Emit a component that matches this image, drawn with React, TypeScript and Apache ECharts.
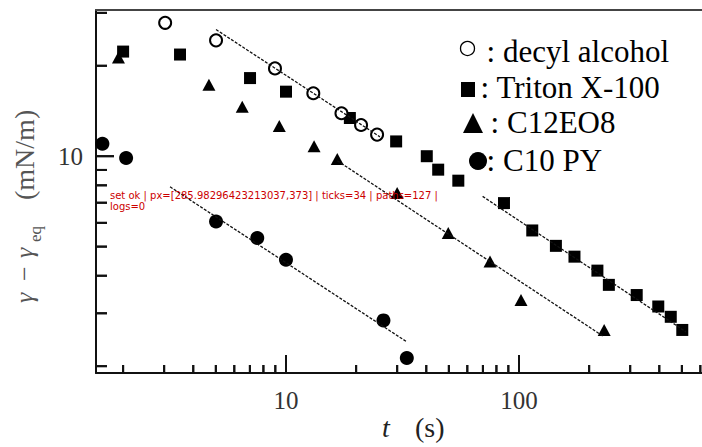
import React, { useEffect, useRef, useState } from 'react';
import * as echarts from 'echarts';

// axis ranges (values)
const X_MIN = 1.53;
const X_MAX = 610;
const Y_MIN = 1.898;
const Y_MAX = 30.67;

// tick values
const xMajorTicks = [10, 100];
const xMinorTicks = [2, 3, 4, 5, 6, 7, 8, 9, 20, 30, 40, 50, 60, 70, 80, 90, 200, 300, 400, 500, 600];
const yMajorTicks = [10];
const yMinorTicks = [2, 3, 4, 5, 6, 7, 8, 9, 20, 30];
const xTickLabels = [10, 100];
const yTickLabels = [10];

// decyl alcohol (open circles)
const decylT = [3.03, 5.01, 8.97, 13.1, 17.3, 21.0, 24.6];
const decylG = [27.8, 24.3, 19.6, 16.2, 13.9, 12.7, 11.8];
// Triton X-100 (squares)
const tritonT = [2.0, 3.51, 7.01, 10.0, 18.8, 29.7, 40.2, 45.0, 54.9, 86.2, 114, 144, 173, 217, 243, 320, 396, 448, 502];
const tritonG = [22.3, 21.8, 18.2, 16.4, 13.4, 11.2, 10.0, 9.02, 8.29, 6.98, 5.66, 5.03, 4.63, 4.16, 3.73, 3.45, 3.16, 2.92, 2.64];
// C12EO8 (triangles)
const c12T = [1.91, 4.67, 6.49, 9.36, 13.2, 16.6, 30.0, 49.7, 75.1, 102, 232];
const c12G = [21.3, 17.3, 14.6, 12.6, 10.8, 9.79, 7.54, 5.55, 4.46, 3.32, 2.64];
// C10 PY (filled circles)
const c10T = [1.63, 2.06, 5.01, 7.53, 10.0, 26.2, 33.0];
const c10G = [11.0, 9.86, 6.06, 5.34, 4.52, 2.84, 2.13];

// fitted lines (t^-1/2)
const decylFitT = [5.01, 25.3];
const decylFitG = [26.4, 11.6];
const tritonFitT = [69.8, 521];
const tritonFitG = [7.35, 2.6];
const c12FitT = [16.6, 229];
const c12FitG = [9.66, 2.52];
const c10FitT = [3.18, 33.0];
const c10FitG = [7.91, 2.41];

const legendNames = ['decyl alcohol', 'Triton X-100', 'C12EO8', 'C10 PY'];

const zip = (a: number[], b: number[]) => a.map((v, i) => [v, b[i]]);

const SERIF = 'Liberation Serif';

const logs: string[] = [];
const origWarn = console.warn;
const origErr = console.error;
console.warn = (...a: any[]) => { logs.push('W:' + a.map(String).join(' ').slice(0, 120)); origWarn(...a); };
console.error = (...a: any[]) => { logs.push('E:' + a.map(String).join(' ').slice(0, 120)); origErr(...a); };

export default function App() {
  const ref = useRef<HTMLDivElement>(null);
  const [dbg, setDbg] = useState('');
  useEffect(() => {
    const chart = echarts.init(ref.current!, null, { renderer: 'svg' });
    const info: string[] = [];

    const txt = (text: string, x: number, y: number, size: number, color: string, italic = false) => ({
      type: 'text',
      x,
      y,
      style: {
        text,
        fontFamily: SERIF,
        fontSize: size,
        fontStyle: italic ? 'italic' : 'normal',
        fill: color,
        align: 'left',
        verticalAlign: 'middle',
      },
    });

    const xTickSeries = (vals: number[], len: number) => ({
      type: 'custom',
      data: vals.map((v) => [v, Y_MIN]),
      encode: { x: 0, y: 1 },
      renderItem: (p: any, api: any) => {
        const c = api.coord([api.value(0), api.value(1)]);
        return {
          type: 'line',
          shape: { x1: c[0], y1: c[1], x2: c[0], y2: c[1] - len },
          style: { stroke: '#111', lineWidth: 2 },
        };
      },
    });
    const yTickSeries = (vals: number[], len: number) => ({
      type: 'custom',
      data: vals.map((v) => [X_MIN, v]),
      encode: { x: 0, y: 1 },
      renderItem: (p: any, api: any) => {
        const c = api.coord([api.value(0), api.value(1)]);
        return {
          type: 'line',
          shape: { x1: c[0], y1: c[1], x2: c[0] + len, y2: c[1] },
          style: { stroke: '#111', lineWidth: 2 },
        };
      },
    });

    const fitLine = (t: number[], g: number[]) => ({
      type: 'line',
      data: zip(t, g),
      symbol: 'none',
      lineStyle: { color: '#111', width: 1.3, type: [3, 1.5] },
    });

    const legendRows = [
      { textX: 486.6, y: 51.5 },
      { textX: 480.6, y: 87.5 },
      { textX: 490.6, y: 122.5 },
      { textX: 486.6, y: 160.5 },
    ];

    const axisLine = { show: true, lineStyle: { color: '#111', width: 2 } };

    const baseGraphic: any[] = [
      { type: 'circle', shape: { cx: 467.5, cy: 48.5, r: 7 }, style: { fill: 'none', stroke: '#000', lineWidth: 1.3 } },
      { type: 'rect', shape: { x: 461, y: 82, width: 14, height: 15 }, style: { fill: '#000' } },
      { type: 'polygon', shape: { points: [[473, 113], [463, 133], [483, 133]] }, style: { fill: '#000' } },
      { type: 'circle', shape: { cx: 478, cy: 161, r: 9 }, style: { fill: '#000' } },
      ...legendNames.map((n, i) => txt(': ' + n, legendRows[i].textX, legendRows[i].y, 31, '#000')),
      txt('t', 382, 427.5, 28, '#222', true),
      txt('(s)', 415, 427.5, 28, '#222'),
      {
        type: 'group',
        x: 30,
        y: 203,
        rotation: Math.PI / 2,
        children: [
          txt('γ', -100, -6, 26, '#555', true),
          txt('−', -78, -6, 26, '#555'),
          txt('γ', -55, -6, 26, '#555', true),
          txt('eq', -39, 5.5, 17, '#555'),
          txt('(mN/m)', 3, -6, 28, '#555'),
        ],
      },
    ];

    const option: any = {
      animation: false,
      grid: { left: 96, right: 0, top: 10, bottom: 74, outerBoundsMode: 'none' },
      xAxis: [
        {
          type: 'log',
          logBase: 10,
          min: X_MIN,
          max: X_MAX,
          splitLine: { show: false },
          axisTick: { show: false },
          axisLine,
          axisLabel: {
            margin: 15,
            fontFamily: SERIF,
            fontSize: 25,
            color: '#333',
            customValues: xTickLabels,
            formatter: (v: number) => String(Math.round(v)),
          },
        },
        {
          type: 'log',
          logBase: 10,
          min: X_MIN,
          max: X_MAX,
          position: 'top',
          splitLine: { show: false },
          axisTick: { show: false },
          axisLabel: { show: false },
          axisLine: { show: true, lineStyle: { color: '#444', width: 2 } },
        },
      ],
      yAxis: {
        type: 'log',
        logBase: 10,
        min: Y_MIN,
        max: Y_MAX,
        splitLine: { show: false },
        axisTick: { show: false },
        axisLine,
        axisLabel: {
          margin: 13,
          fontFamily: SERIF,
          fontSize: 25,
          color: '#333',
          customValues: yTickLabels,
          formatter: (v: number) => String(Math.round(v)),
        },
      },
      series: [
        xTickSeries(xMinorTicks, 8),
        xTickSeries(xMajorTicks, 18),
        yTickSeries(yMinorTicks, 11),
        yTickSeries(yMajorTicks, 18),
        fitLine(decylFitT, decylFitG),
        fitLine(tritonFitT, tritonFitG),
        fitLine(c12FitT, c12FitG),
        fitLine(c10FitT, c10FitG),
        { name: legendNames[2], type: 'scatter', data: zip(c12T, c12G), symbol: 'triangle', symbolSize: [13, 12], itemStyle: { color: '#000', opacity: 1 } },
        { name: legendNames[1], type: 'scatter', data: zip(tritonT, tritonG), symbol: 'rect', symbolSize: 12, itemStyle: { color: '#000', opacity: 1 } },
        { name: legendNames[3], type: 'scatter', data: zip(c10T, c10G), symbol: 'circle', symbolSize: 14, itemStyle: { color: '#000', opacity: 1 } },
        { name: legendNames[0], type: 'scatter', data: zip(decylT, decylG), symbol: 'circle', symbolSize: 12, itemStyle: { color: '#fff', borderColor: '#000', borderWidth: 2, opacity: 1 } },
      ],
      graphic: baseGraphic,
    };

    try {
      chart.setOption(option);
      info.push('set ok');
    } catch (e: any) {
      info.push('SETERR ' + String(e && e.message).slice(0, 150));
    }

    const finder: any = { xAxisIndex: 0, yAxisIndex: 0 };
    const tickLines: any[] = [];
    try {
      const c0 = chart.convertToPixel(finder, [10, Y_MIN]);
      info.push('px=' + JSON.stringify(c0));
      const addX = (vals: number[], len: number) =>
        vals.forEach((v) => {
          const c = chart.convertToPixel(finder, [v, Y_MIN]) as number[];
          tickLines.push({ type: 'line', z: 100, shape: { x1: c[0], y1: c[1], x2: c[0], y2: c[1] - len }, style: { stroke: '#111', lineWidth: 2 } });
        });
      const addY = (vals: number[], len: number) =>
        vals.forEach((v) => {
          const c = chart.convertToPixel(finder, [X_MIN, v]) as number[];
          tickLines.push({ type: 'line', z: 100, shape: { x1: c[0], y1: c[1], x2: c[0] + len, y2: c[1] }, style: { stroke: '#111', lineWidth: 2 } });
        });
      addX(xMinorTicks, 8);
      addX(xMajorTicks, 18);
      addY(yMinorTicks, 11);
      addY(yMajorTicks, 18);
      chart.setOption({ graphic: [...baseGraphic, ...tickLines] });
      info.push('ticks=' + tickLines.length);
    } catch (e: any) {
      info.push('TERR ' + String(e && e.message).slice(0, 150));
    }
    const svg = ref.current!.querySelector('svg');
    info.push('paths=' + (svg ? svg.querySelectorAll('path').length : -1));
    info.push('logs=' + logs.length + ' ' + logs.slice(0, 4).join(' || '));
    setDbg(info.join(' | '));
    return () => chart.dispose();
  }, []);
  return (
    <div style={{ position: 'fixed', left: 0, top: 0, width: 702, height: 447, background: '#fff' }}>
      <div ref={ref} style={{ width: 702, height: 447 }} />
      <div style={{ position: 'absolute', left: 110, top: 190, width: 330, fontSize: 10, lineHeight: '11px', fontFamily: 'DejaVu Sans', color: '#c00', wordBreak: 'break-all' }}>{dbg}</div>
    </div>
  );
}
